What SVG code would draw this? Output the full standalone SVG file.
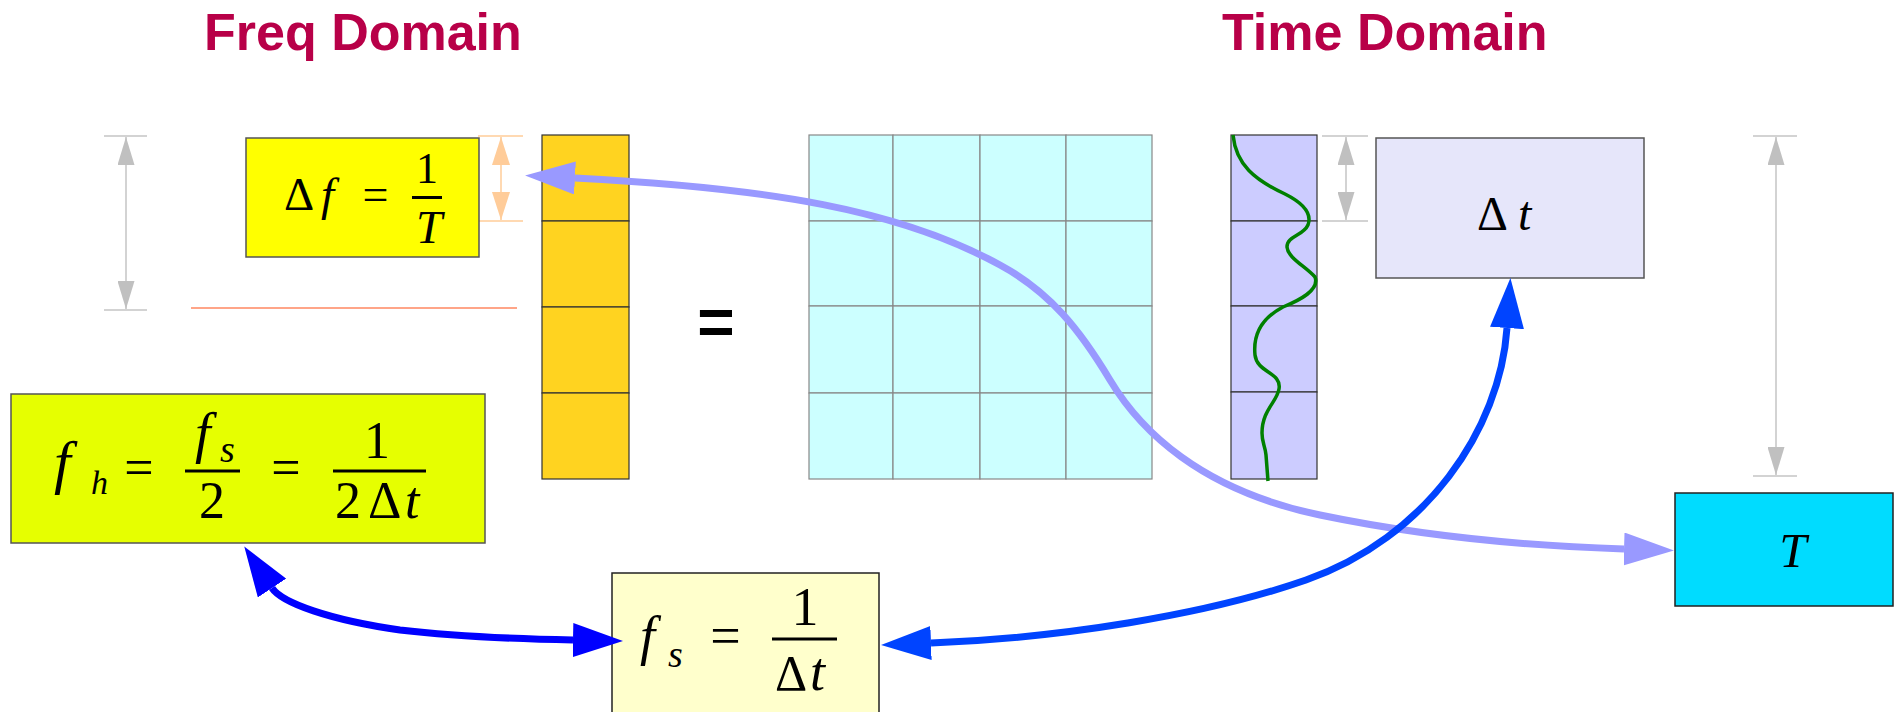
<svg xmlns="http://www.w3.org/2000/svg" width="1899" height="712" viewBox="0 0 1899 712">
<style>
.title{font-family:"Liberation Sans",Arial,sans-serif;font-weight:bold;font-size:52px;fill:#b80048}
.m{font-family:"Liberation Serif","Times New Roman",serif;fill:#000}
.i{font-style:italic}
.box{stroke:#555;stroke-width:1.5}
.cell{stroke:#333;stroke-width:1.2}
.gcell{fill:#ccffff;stroke:#888;stroke-width:1.2}
.dim{stroke:#c4c4c4;stroke-width:1.5;fill:none}
.odim{stroke:#ffcc99;stroke-width:1.5;fill:none}
.frac{stroke:#000;stroke-width:3}
.conn{fill:none;stroke-width:7}
</style>
<defs>
<marker id="dimGray" markerUnits="userSpaceOnUse" markerWidth="28" markerHeight="17" viewBox="0 0 28 17" refX="28" refY="8.5" orient="auto-start-reverse"><path d="M0,0 L28,8.5 L0,17 z" fill="#c0c0c0"/></marker>
<marker id="dimOrange" markerUnits="userSpaceOnUse" markerWidth="28" markerHeight="18" viewBox="0 0 28 18" refX="28" refY="9" orient="auto-start-reverse"><path d="M0,0 L28,9 L0,18 z" fill="#ffcc99"/></marker>
<marker id="ahBlue" markerUnits="userSpaceOnUse" markerWidth="50" markerHeight="34" viewBox="0 0 50 34" refX="0" refY="17" orient="auto-start-reverse"><path d="M0,0 L50,17 L0,34 z" fill="#0000ff"/></marker>
<marker id="ahBlue2" markerUnits="userSpaceOnUse" markerWidth="50" markerHeight="34" viewBox="0 0 50 34" refX="0" refY="17" orient="auto-start-reverse"><path d="M0,0 L50,17 L0,34 z" fill="#0044ff"/></marker>
<marker id="ahLav" markerUnits="userSpaceOnUse" markerWidth="50" markerHeight="33" viewBox="0 0 50 33" refX="0" refY="16.5" orient="auto-start-reverse"><path d="M0,0 L50,16.5 L0,33 z" fill="#9999ff"/></marker>
</defs>
<rect width="1899" height="712" fill="#fff"/>

<g id="titles">
<text class="title" x="204" y="50">Freq Domain</text>
<text class="title" x="1222" y="50">Time Domain</text>
</g>

<g id="dim-left">
<line class="dim" x1="104" y1="136" x2="147" y2="136"/>
<line class="dim" x1="104" y1="310" x2="147" y2="310"/>
<path class="dim" d="M126,137 L126,309" marker-start="url(#dimGray)" marker-end="url(#dimGray)"/>
</g>
<line id="salmon-line" x1="191" y1="308" x2="517" y2="308" stroke="#ffa588" stroke-width="2"/>

<g id="dim-df">
<line class="odim" x1="478" y1="136" x2="523" y2="136"/>
<line class="odim" x1="478" y1="221" x2="523" y2="221"/>
<path class="odim" d="M501,137 L501,220" marker-start="url(#dimOrange)" marker-end="url(#dimOrange)"/>
</g>

<g id="node-df">
<rect class="box" x="246" y="138" width="233" height="119" fill="#ffff00"/>
<text class="m" x="284" y="210" font-size="47">Δ</text>
<text class="m i" x="321" y="210" font-size="47">f</text>
<text class="m" x="375.5" y="210" font-size="46" text-anchor="middle">=</text>
<text class="m" x="427" y="183" font-size="44" text-anchor="middle">1</text>
<line class="frac" x1="412" y1="197.5" x2="442" y2="197.5"/>
<text class="m i" x="429" y="243" font-size="47" text-anchor="middle">T</text>
</g>

<g id="node-freq-column">
<rect class="cell" x="542" y="135" width="87" height="86" fill="#ffd320"/>
<rect class="cell" x="542" y="221" width="87" height="86" fill="#ffd320"/>
<rect class="cell" x="542" y="307" width="87" height="86" fill="#ffd320"/>
<rect class="cell" x="542" y="393" width="87" height="86" fill="#ffd320"/>
</g>

<text id="equals" x="716" y="344" font-family="Liberation Sans,Arial,sans-serif" font-weight="bold" font-size="64" text-anchor="middle">=</text>

<g id="node-matrix">
<rect class="gcell" x="809" y="135" width="84" height="86"/>
<rect class="gcell" x="893" y="135" width="87" height="86"/>
<rect class="gcell" x="980" y="135" width="86" height="86"/>
<rect class="gcell" x="1066" y="135" width="86" height="86"/>
<rect class="gcell" x="809" y="221" width="84" height="85"/>
<rect class="gcell" x="893" y="221" width="87" height="85"/>
<rect class="gcell" x="980" y="221" width="86" height="85"/>
<rect class="gcell" x="1066" y="221" width="86" height="85"/>
<rect class="gcell" x="809" y="306" width="84" height="87"/>
<rect class="gcell" x="893" y="306" width="87" height="87"/>
<rect class="gcell" x="980" y="306" width="86" height="87"/>
<rect class="gcell" x="1066" y="306" width="86" height="87"/>
<rect class="gcell" x="809" y="393" width="84" height="86"/>
<rect class="gcell" x="893" y="393" width="87" height="86"/>
<rect class="gcell" x="980" y="393" width="86" height="86"/>
<rect class="gcell" x="1066" y="393" width="86" height="86"/>
</g>

<g id="node-time-column">
<rect class="cell" x="1231" y="135" width="86" height="86" fill="#ccccff"/>
<rect class="cell" x="1231" y="221" width="86" height="85" fill="#ccccff"/>
<rect class="cell" x="1231" y="306" width="86" height="86" fill="#ccccff"/>
<rect class="cell" x="1231" y="392" width="86" height="87" fill="#ccccff"/>
<path d="M1233,135 C1236,165 1255,180 1285,194 C1305,204 1312,214 1308,225 C1303,236 1287,236 1287,247 C1288,258 1305,266 1315,277 C1320,290 1300,300 1283,307 C1262,318 1253,335 1255,355 C1257,373 1282,372 1279,389 C1277,402 1262,410 1262,433 C1262,443 1265,445 1266,455 L1268,481" fill="none" stroke="#008000" stroke-width="3.5"/>
</g>

<g id="dim-dt">
<line class="dim" x1="1322" y1="136" x2="1368" y2="136"/>
<line class="dim" x1="1322" y1="221" x2="1368" y2="221"/>
<path class="dim" d="M1346,137 L1346,220" marker-start="url(#dimGray)" marker-end="url(#dimGray)"/>
</g>

<g id="node-dt">
<rect class="box" x="1376" y="138" width="268" height="140" fill="#e6e6fa"/>
<text class="m" x="1477" y="230" font-size="48">Δ</text>
<text class="m i" x="1518" y="230" font-size="48">t</text>
</g>

<g id="dim-T">
<line class="dim" x1="1753" y1="136" x2="1797" y2="136"/>
<line class="dim" x1="1753" y1="476" x2="1797" y2="476"/>
<path class="dim" d="M1776,137 L1776,475" marker-start="url(#dimGray)" marker-end="url(#dimGray)"/>
</g>

<g id="node-T">
<rect x="1675" y="493" width="218" height="113" fill="#00dcff" stroke="#222" stroke-width="1.5"/>
<text class="m i" x="1793" y="567" font-size="49" text-anchor="middle">T</text>
</g>

<g id="node-fh">
<rect class="box" x="11" y="394" width="474" height="149" fill="#e6ff00"/>
<text class="m i" x="54" y="482" font-size="60">f</text>
<text class="m i" x="91" y="494" font-size="34">h</text>
<text class="m" x="139" y="485" font-size="52" text-anchor="middle">=</text>
<text class="m i" x="195" y="452" font-size="56">f</text>
<text class="m i" x="220" y="462" font-size="38">s</text>
<line class="frac" x1="185" y1="471" x2="240" y2="471"/>
<text class="m" x="212" y="518" font-size="52" text-anchor="middle">2</text>
<text class="m" x="286" y="485" font-size="52" text-anchor="middle">=</text>
<text class="m" x="377" y="458" font-size="52" text-anchor="middle">1</text>
<line class="frac" x1="333" y1="471" x2="426" y2="471"/>
<text class="m" x="335" y="518" font-size="52">2</text>
<text class="m" x="368" y="518" font-size="52">Δ</text>
<text class="m i" x="405" y="518" font-size="52">t</text>
</g>

<g id="node-fs">
<rect x="612" y="573" width="267" height="145" fill="#ffffcc" stroke="#222" stroke-width="1.5"/>
<text class="m i" x="640" y="654" font-size="54">f</text>
<text class="m i" x="668" y="667" font-size="38">s</text>
<text class="m" x="725.5" y="654" font-size="54" text-anchor="middle">=</text>
<text class="m" x="805" y="625" font-size="54" text-anchor="middle">1</text>
<line class="frac" x1="772" y1="639" x2="837" y2="639"/>
<text class="m" x="775" y="690" font-size="50">Δ</text>
<text class="m i" x="810" y="690" font-size="54">t</text>
</g>

<g id="connectors">
<path class="conn" stroke="#9999ff" d="M575,178 C770,188 900,210 1000,265 C1050,292 1080,330 1110,380 C1140,430 1200,490 1320,515 C1440,540 1560,547 1624,549" marker-start="url(#ahLav)" marker-end="url(#ahLav)"/>
<path class="conn" stroke="#0000ff" d="M272,588 C282,603 330,620 400,630 C460,637 520,639 573,640" marker-start="url(#ahBlue)" marker-end="url(#ahBlue)"/>
<path class="conn" stroke="#0044ff" d="M1507,328 C1500,430 1426,538 1306,580 C1206,615 1060,638 931,643" marker-start="url(#ahBlue2)" marker-end="url(#ahBlue2)"/>
</g>
</svg>
